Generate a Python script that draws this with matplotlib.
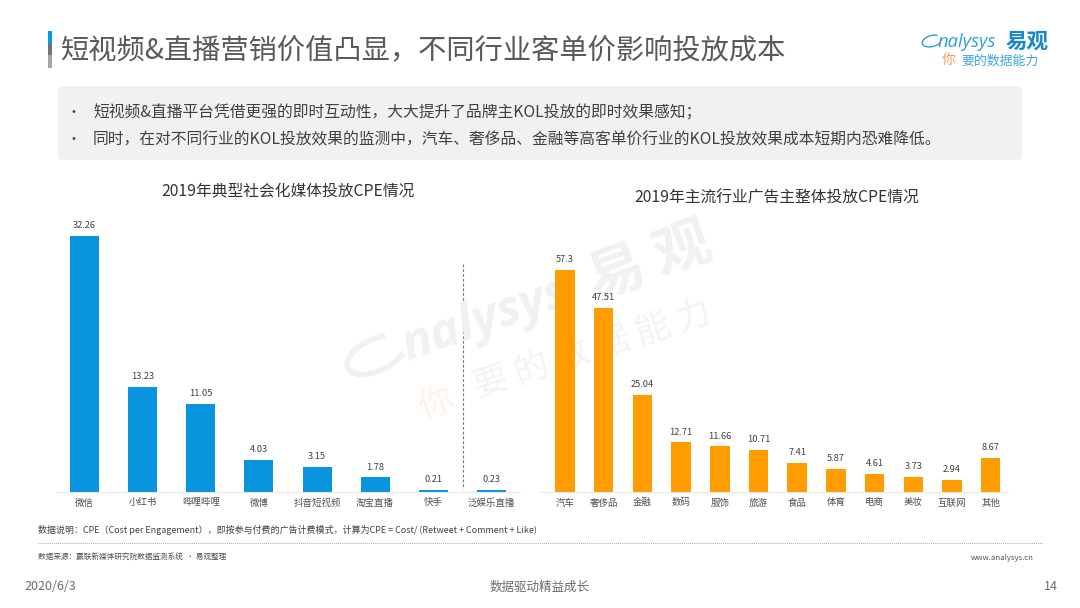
import matplotlib
matplotlib.use("Agg")
import matplotlib.pyplot as plt
from matplotlib.patches import FancyBboxPatch, Rectangle, Arc

plt.rcParams['font.family'] = ['Noto Sans CJK SC', 'DejaVu Sans']

media_labels = ['微信', '小红书', '哔哩哔哩', '微博', '抖音短视频', '淘宝直播', '快手', '泛娱乐直播']
media_values = [32.26, 13.23, 11.05, 4.03, 3.15, 1.78, 0.21, 0.23]
industry_labels = ['汽车', '奢侈品', '金融', '数码', '服饰', '旅游', '食品', '体育', '电商', '美妆', '互联网', '其他']
industry_values = [57.3, 47.51, 25.04, 12.71, 11.66, 10.71, 7.41, 5.87, 4.61, 3.73, 2.94, 8.67]
media_labels_fmt = ['32.26', '13.23', '11.05', '4.03', '3.15', '1.78', '0.21', '0.23']
industry_labels_fmt = ['57.3', '47.51', '25.04', '12.71', '11.66', '10.71', '7.41', '5.87', '4.61', '3.73', '2.94', '8.67']

W, H = 1080, 608
fig = plt.figure(figsize=(W / 100, H / 100), dpi=100, facecolor='white')

bg = fig.add_axes([0, 0, 1, 1], zorder=0)
bg.set_xlim(0, W)
bg.set_ylim(H, 0)
bg.axis('off')

# accent bar
bg.add_patch(Rectangle((48, 31), 4, 13, fc='#0a9be0', ec='none'))
bg.add_patch(Rectangle((48, 44), 4, 11, fc='#737373', ec='none'))
bg.add_patch(Rectangle((48, 55), 4, 13, fc='#a5a5a5', ec='none'))
bg.text(61, 51, '短视频&直播营销价值凸显，不同行业客单价影响投放成本', fontsize=20.3,
        color='#595959', va='center', ha='left')

# summary panel
bg.add_patch(FancyBboxPatch((61, 89), 958, 68, boxstyle='round,pad=3,rounding_size=5',
                            fc='#f0f1f3', ec='none'))
bg.text(67, 113, '•', fontsize=10, color='#404040', va='center')
bg.text(93, 113, '短视频&直播平台凭借更强的即时互动性，大大提升了品牌主KOL投放的即时效果感知；',
        fontsize=11.35, color='#404040', va='center')
bg.text(67, 140, '•', fontsize=10, color='#404040', va='center')
bg.text(93, 140, '同时，在对不同行业的KOL投放效果的监测中，汽车、奢侈品、金融等高客单价行业的KOL投放效果成本短期内恐难降低。',
        fontsize=11.35, color='#404040', va='center')

# logo
bg.add_patch(Arc((932, 41), 20, 11, angle=-15, theta1=20, theta2=330, color='#2b9fd8', lw=1.0))
bg.text(938, 42, 'nalysys', fontsize=13.2, color='#2b9fd8', va='center', ha='left',
        style='italic', family='Open Sans')
bg.text(1006, 41, '易观', fontsize=15.5, color='#1688cf', va='center', ha='left', weight='bold')
bg.text(942, 60, '你', fontsize=10, color='#f4a24a', va='center', ha='left')
bg.text(961, 61, '要的数据能力', fontsize=9.3, color='#3ea6dd', va='center', ha='left')

# watermark
wm = '#eff1f3'
bg.add_patch(Arc((376, 355), 62, 32, angle=-25, theta1=20, theta2=320, color=wm, lw=4))
bg.text(403, 348, 'nalysys', fontsize=36, color=wm, va='center', ha='left',
        rotation=19, rotation_mode='anchor', style='italic', weight='bold', family='Open Sans')
bg.text(590, 283, '易 观', fontsize=41, color=wm, va='center', ha='left',
        rotation=20, rotation_mode='anchor', weight='bold')
bg.text(420, 410, '你', fontsize=25, color='#fdf3ea', va='center', ha='left',
        rotation=20, rotation_mode='anchor')
bg.text(475, 388, '要 的 数 据 能 力', fontsize=25, color='#f2f3f5', va='center', ha='left',
        rotation=18, rotation_mode='anchor')

# chart titles
bg.text(288, 191.5, '2019年典型社会化媒体投放CPE情况', fontsize=11.35, color='#333333', ha='center', va='center')
bg.text(777, 198.5, '2019年主流行业广告主整体投放CPE情况', fontsize=11.35, color='#333333', ha='center', va='center')

# separator between groups
bg.plot([463, 463], [264, 489], color='#777777', lw=0.8, ls=(0, (2.5, 1.8)))

# footer
bg.text(38, 530, '数据说明：CPE（Cost per Engagement），即按参与付费的广告计费模式，计算为CPE = Cost/ (Retweet + Comment + Like)',
        fontsize=6.45, color='#404040', va='center')
bg.plot([38, 1043], [543, 543], color='#a8a8a8', lw=0.7, ls=(0, (1, 1)))
bg.text(38, 558, '数据来源：赢联新媒体研究院数据监测系统  · 易观整理', fontsize=5.5, color='#505050', va='center')
bg.text(1034, 558, 'www.analysys.cn', fontsize=5.6, color='#505050', va='center', ha='right')
bg.text(24, 586, '2020/6/3', fontsize=9, color='#6b6b6b', va='center')
bg.text(540, 587, '数据驱动精益成长', fontsize=9, color='#6b6b6b', va='center', ha='center')
bg.text(1051, 586, '14', fontsize=9, color='#6b6b6b', va='center', ha='center')


def bar_panel(x0, x1, y_top, y_base, first, step, width, ppu, labels, values, fmt, color):
    ax = fig.add_axes([x0 / W, 1 - y_base / H, (x1 - x0) / W, (y_base - y_top) / H], zorder=1)
    ax.patch.set_alpha(0)
    ax.set_xlim((x0 - first) / step, (x1 - first) / step)
    ax.set_ylim(0, (y_base - y_top) / ppu)
    xs = list(range(len(values)))
    ax.bar(xs, values, width=width / step, color=color, linewidth=0)
    for x, v, s in zip(xs, values, fmt):
        ax.annotate(s, (x, v), xytext=(0, 4.2), textcoords='offset points', ha='center', va='bottom',
                    fontsize=6.7, color='#404040')
    for s in ('top', 'left', 'right'):
        ax.spines[s].set_visible(False)
    ax.spines['bottom'].set_color('#e8e8e8')
    ax.spines['bottom'].set_linewidth(0.8)
    ax.set_yticks([])
    ax.set_xticks(xs)
    ax.set_xticklabels(labels, fontsize=6.8, color='#505050', va='center_baseline')
    ax.tick_params(axis='x', length=0, pad=7.5)
    return ax


bar_panel(57, 520, 205, 491.5, 84.6, 58.1, 29, 7.92, media_labels, media_values, media_labels_fmt, '#0a94de')
bar_panel(540, 1008, 225, 491.5, 565, 38.7, 19.5, 3.866, industry_labels, industry_values, industry_labels_fmt, '#ff9c00')

fig.savefig('out.png', dpi=100, facecolor='white')
